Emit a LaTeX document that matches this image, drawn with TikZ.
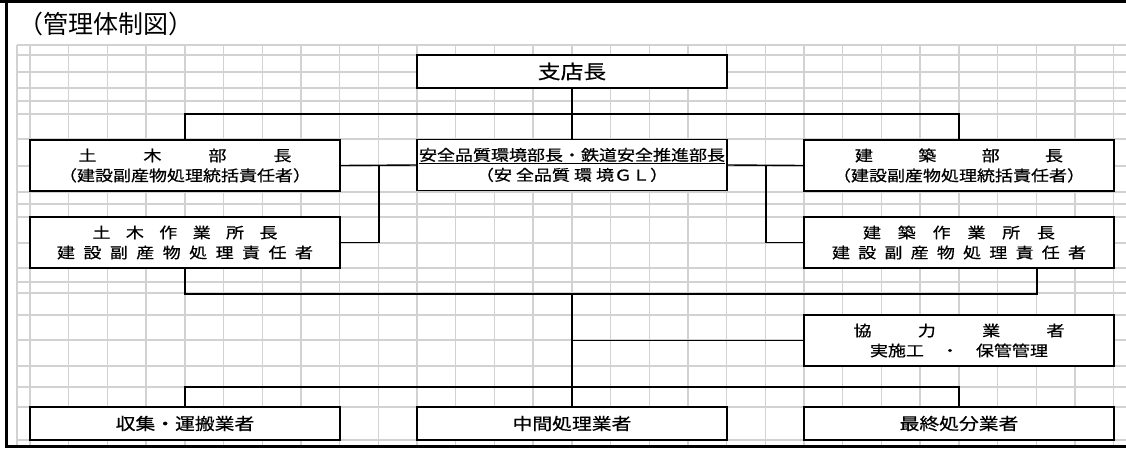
\documentclass[tikz,border=0pt]{standalone}
\usepackage{fontspec}
\newfontfamily\jp{Noto Sans CJK JP}
\newfontfamily\jpw{Noto Sans CJK JP}[FakeStretch=1.2,FakeBold=0.6]
\definecolor{gridgray}{HTML}{D2D2D2}
\tikzset{
  box/.style={draw, line width=1.6pt, fill=white, minimum width=310pt, inner sep=0pt,
    align=center, font=\jpw\fontsize{15}{20}\selectfont},
  tall/.style={minimum height=51pt},
  flat/.style={minimum height=33pt},
  wire/.style={line width=1.4pt},
  gridline/.style={draw=gridgray, line width=1.4pt}
}
\begin{document}
\begin{tikzpicture}[x=1pt,y=-1pt]
      \useasboundingbox (0,0) rectangle (1126,448);
      % sheet grid
      \draw[gridline] (17,45) -- (17,445);
      \foreach \gx in {0,...,28}
        \draw[gridline] ({30+38.7*\gx},45) -- ({30+38.7*\gx},445);
      \foreach \gy in {45,55,72,88,101,114,139,166,192,204,217,243,268,282,293,315,340,366,387,407,440}
        \draw[gridline] (17,\gy) -- (1126,\gy);
      % frame
      \draw[line width=3pt] (0,1.5) -- (1126,1.5);
      \draw[line width=3pt] (6.5,0) -- (6.5,448);
      \draw[line width=3pt] (6.5,446.5) -- (1126,446.5);
      \node[anchor=west, inner sep=0pt, font=\jp\fontsize{25}{25}\selectfont] (title) at (18,24) {（管理体制図）};
      % boxes
      \node[box, minimum height=33pt, font=\jpw\fontsize{19}{22}\selectfont] (shiten) at (572,71.5) {支店長};
      \node[box, tall] (doboku) at (185,165.5) {\makebox[213pt][s]{土\hfil 木\hfil 部\hfil 長}\\（建設副産物処理統括責任者）};
      \node[box, tall] (anzen) at (572,165) {\underline{安全品質環境部長・鉄道安全推進部長}\\（安 全品質 環 境ＧＬ）};
      \node[box, tall] (kenchiku) at (959,165.5) {\makebox[208pt][s]{建\hfil 築\hfil 部\hfil 長}\\（建設副産物処理統括責任者）};
      \node[box, tall] (dobokuSite) at (185,242.5) {\makebox[185pt][s]{土\hfil 木\hfil 作\hfil 業\hfil 所\hfil 長}\\\makebox[256pt][s]{建\hfil 設\hfil 副\hfil 産\hfil 物\hfil 処\hfil 理\hfil 責\hfil 任\hfil 者}};
      \node[box, tall] (kenchikuSite) at (959,242.5) {\makebox[192pt][s]{建\hfil 築\hfil 作\hfil 業\hfil 所\hfil 長}\\\makebox[254pt][s]{建\hfil 設\hfil 副\hfil 産\hfil 物\hfil 処\hfil 理\hfil 責\hfil 任\hfil 者}};
      \node[box, tall] (kyoryoku) at (959,340.5) {\makebox[211pt][s]{協\hfil 力\hfil 業\hfil 者}\\\makebox[178pt][s]{実施工\hfil ・\hfil 保管管理}};
      \node[box, flat, font=\jpw\fontsize{16.5}{20}\selectfont] (shushu) at (185,423.5) {収集・運搬業者};
      \node[box, flat, font=\jpw\fontsize{16.5}{20}\selectfont] (chukan) at (572,423.5) {中間処理業者};
      \node[box, flat, font=\jpw\fontsize{16.5}{20}\selectfont] (saishu) at (959,423.5) {最終処分業者};
      % junctions
      \coordinate (top) at (572,114);
      \coordinate (ljoin) at (379,165);
      \coordinate (rjoin) at (766,165);
      \coordinate (kfoot) at (1037,268);
      \coordinate (mid) at (572,294);
      \coordinate (bot) at (572,387);
      % connectors
      \draw[wire] (shiten.south) -- (anzen.north);
      \draw[wire] (doboku.north) |- (top) -| (kenchiku.north);
      \draw[wire] (doboku.east) -- (anzen.west);
      \draw[wire] (anzen.east) -- (kenchiku.west);
      \draw[wire] (ljoin) |- (dobokuSite.east);
      \draw[wire] (rjoin) |- (kenchikuSite.west);
      \draw[wire] (dobokuSite.south) |- (mid) -| (kfoot);
      \draw[wire] (mid) -- (chukan.north);
      \draw[wire] (kyoryoku.west) -- (kyoryoku.west -| mid);
      \draw[wire] (shushu.north) |- (bot) -| (saishu.north);
\end{tikzpicture}
\end{document}
